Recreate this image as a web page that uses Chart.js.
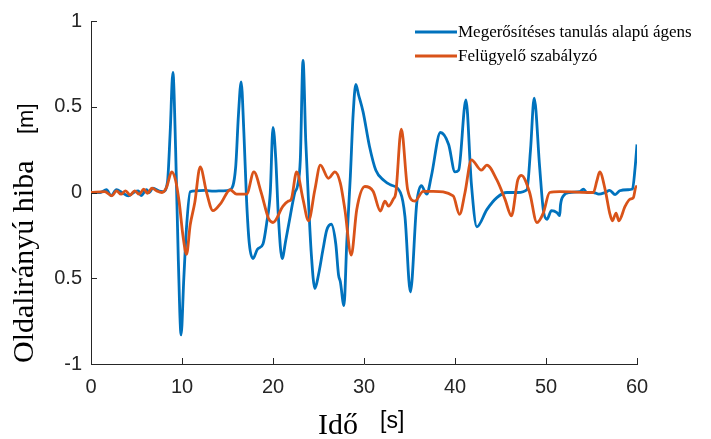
<!DOCTYPE html>
<html>
<head>
<meta charset="utf-8">
<script src="https://cdn.jsdelivr.net/npm/chart.js@4/dist/chart.umd.min.js"></script>
<style>
  html, body { margin: 0; padding: 0; background: #ffffff; }
  #wrap { width: 711px; height: 439px; position: relative; }
</style>
</head>
<body>
<div id="wrap"><canvas id="c" width="711" height="439"></canvas></div>
<script>
// ---- Data ----
const seriesNames = ["Megerősítéses tanulás alapú ágens", "Felügyelő szabályzó"];

const tAgent = [0, 1.0, 1.7, 2.2, 2.8, 3.4, 4.1, 4.7, 5.2, 5.5, 6.1, 6.4, 6.8, 7.5, 7.9, 8.4, 8.7, 9.0, 9.3, 9.6, 9.9, 10.2, 10.5, 10.9, 11.5, 12.5, 13.5, 14.5, 15.3, 15.9, 16.2, 16.5, 16.8, 17.1, 17.4, 17.8, 18.3, 18.9, 19.3, 19.7, 20.0, 20.3, 20.6, 21.0, 21.4, 21.9, 22.4, 22.7, 23.0, 23.3, 23.6, 23.9, 24.2, 24.6, 25.0, 25.5, 25.9, 26.4, 26.9, 27.2, 27.4, 27.8, 28.1, 28.5, 28.8, 29.1, 29.4, 29.9, 30.6, 31.3, 32.2, 32.9, 34.0, 34.5, 35.1, 35.8, 36.3, 36.9, 37.4, 38.4, 39.3, 40.0, 40.4, 41.2, 41.8, 42.4, 43.5, 44.6, 45.7, 46.9, 47.9, 48.3, 48.7, 49.3, 49.7, 50.1, 50.6, 51.2, 51.5, 51.6, 51.9, 52.6, 53.7, 54.1, 54.5, 55.2, 55.8, 56.5, 57.0, 57.6, 58.1, 59.0, 59.5, 59.8, 60.0];
const vAgent = [0, 0.0, 0.016, -0.018, 0.016, 0.0, -0.02, 0.0, 0.01, -0.018, 0.016, 0.0, 0.026, 0.008, 0.005, 0.06, 0.35, 0.70, 0.25, -0.4, -0.83, -0.5, -0.2, 0.005, 0.01, 0.012, 0.008, 0.01, 0.016, 0.15, 0.45, 0.645, 0.35, -0.05, -0.3, -0.385, -0.33, -0.3, -0.18, 0.0, 0.38, 0.2, -0.15, -0.385, -0.28, -0.135, 0.0, 0.04, 0.19, 0.77, 0.3, -0.05, -0.35, -0.56, -0.48, -0.33, -0.22, -0.185, -0.3, -0.48, -0.52, -0.66, -0.3, 0.095, 0.45, 0.63, 0.57, 0.47, 0.27, 0.13, 0.07, 0.045, 0.0, -0.14, -0.58, -0.06, 0.04, -0.01, 0.095, 0.35, 0.28, 0.12, 0.13, 0.54, 0.05, -0.2, -0.1, -0.03, 0.0, 0.0, 0.016, 0.25, 0.55, 0.15, -0.1, -0.156, -0.106, -0.117, -0.135, -0.07, -0.02, 0.0, 0.005, 0.02, 0.0, 0.0, -0.01, 0.0, 0.012, -0.012, 0.01, 0.016, 0.02, 0.15, 0.28];

const tSupervisor = [0, 1.5, 2.3, 2.8, 3.3, 3.8, 4.3, 4.8, 5.3, 5.8, 6.2, 6.7, 7.2, 7.8, 8.3, 8.87, 9.3, 9.7, 10.1, 10.5, 10.9, 11.4, 12.0, 12.7, 13.4, 14.3, 15.3, 16.0, 17.1, 17.9, 18.7, 19.5, 20.0, 21.1, 21.7, 22.0, 22.6, 23.3, 23.9, 24.6, 25.2, 26.1, 26.8, 27.4, 27.9, 28.6, 29.2, 30.1, 31.0, 31.8, 32.3, 32.7, 33.2, 33.5, 34.1, 34.8, 35.6, 36.5, 37.6, 39.8, 40.5, 41.1, 41.8, 42.9, 43.5, 44.6, 45.5, 46.2, 46.9, 47.3, 48.2, 49.0, 49.7, 50.4, 51.5, 55.2, 55.6, 55.9, 56.5, 57.0, 57.3, 57.7, 58.0, 58.7, 59.2, 59.6, 59.9, 60.0];
const vSupervisor = [0, 0.005, -0.02, 0.01, -0.01, 0.01, -0.015, 0.01, -0.01, 0.02, -0.005, 0.026, 0.01, 0.0, 0.03, 0.12, 0.07, -0.06, -0.25, -0.36, -0.19, -0.06, 0.15, 0.0, -0.106, -0.06, 0.016, -0.01, -0.01, 0.12, 0.0, -0.15, -0.175, -0.08, -0.05, -0.04, 0.12, -0.04, -0.165, 0.016, 0.16, 0.083, 0.12, 0.055, -0.1, -0.365, -0.1, 0.035, 0.007, -0.108, -0.05, -0.08, -0.04, 0.0, 0.37, 0.016, -0.05, 0.007, 0.007, -0.02, -0.127, 0.0, 0.19, 0.13, 0.16, 0.073, -0.04, -0.136, 0.073, 0.10, 0.0, -0.175, -0.12, 0.0, 0.005, 0.0, 0.07, 0.12, 0.017, -0.12, -0.165, -0.12, -0.165, -0.08, -0.04, -0.03, 0.035, 0.026];

const xTickLabels = ["0", "10", "20", "30", "40", "50", "60"];
const yTickLabels = ["-1", "0.5", "0", "0.5", "1"];
const xTitle = ["Idő", "[s]"];
const yTitle = ["Oldalirányú hiba", "[m]"];

// ---- Styles ----
const BLUE = "#0072BD";
const ORANGE = "#D95319";
const AXIS = "#262626";
const SERIF = "'Liberation Serif', 'Times New Roman', serif";
const SANS = "'Liberation Sans', Arial, sans-serif";

const toPts = (t, v) => t.map((x, i) => ({ x: x, y: v[i] }));

const decor = {
  id: "decor",
  afterDraw(chart) {
    const ctx = chart.ctx;
    const xs = chart.scales.x, ys = chart.scales.y;
    const area = chart.chartArea;
    ctx.save();
    // inward tick marks
    ctx.strokeStyle = AXIS;
    ctx.lineWidth = 1;
    ys.ticks.forEach(t => {
      const y = Math.round(ys.getPixelForValue(t.value)) + 0.5;
      ctx.beginPath(); ctx.moveTo(area.left, y); ctx.lineTo(area.left + 6, y); ctx.stroke();
    });
    xs.ticks.forEach(t => {
      const x = Math.round(xs.getPixelForValue(t.value)) + 0.5;
      ctx.beginPath(); ctx.moveTo(x, area.bottom); ctx.lineTo(x, area.bottom - 6); ctx.stroke();
    });
    // axis titles
    ctx.fillStyle = "#000000";
    ctx.textBaseline = "alphabetic";
    ctx.textAlign = "left";
    ctx.font = "30px " + SERIF;
    ctx.fillText(xTitle[0], 318, 434);
    ctx.font = "23px " + SANS;
    ctx.fillText(xTitle[1], 380, 428);

    ctx.save();
    ctx.translate(33, 363);
    ctx.rotate(-Math.PI / 2);
    ctx.font = "30px " + SERIF;
    ctx.fillText(yTitle[0], 0, 0);
    ctx.restore();
    ctx.save();
    ctx.translate(33, 134);
    ctx.rotate(-Math.PI / 2);
    ctx.font = "22px " + SANS;
    ctx.fillText(yTitle[1], 0, 0);
    ctx.restore();

    // legend
    const items = [[BLUE, 32], [ORANGE, 56]];
    ctx.font = "17px " + SERIF;
    ctx.textBaseline = "middle";
    items.forEach((it, i) => {
      ctx.strokeStyle = it[0];
      ctx.lineWidth = 2.8;
      ctx.beginPath(); ctx.moveTo(415, it[1]); ctx.lineTo(457, it[1]); ctx.stroke();
      ctx.fillStyle = "#000000";
      ctx.fillText(seriesNames[i], 458, it[1] + 1);
    });
    ctx.restore();
  }
};

new Chart(document.getElementById("c"), {
  type: "line",
  data: {
    datasets: [
      { label: seriesNames[0], data: toPts(tAgent, vAgent), borderColor: BLUE, borderWidth: 2.8,
        pointRadius: 0, cubicInterpolationMode: "monotone", fill: false, order: 2 },
      { label: seriesNames[1], data: toPts(tSupervisor, vSupervisor), borderColor: ORANGE, borderWidth: 2.8,
        pointRadius: 0, cubicInterpolationMode: "monotone", fill: false, order: 1 }
    ]
  },
  options: {
    responsive: false,
    animation: false,
    events: [],
    layout: { padding: { left: 51, top: 15, right: 74, bottom: 0 } },
    plugins: { legend: { display: false }, tooltip: { enabled: false } },
    scales: {
      x: {
        type: "linear", min: 0, max: 60,
        afterFit: s => { s.height = 75; },
        grid: { display: true, drawOnChartArea: false, drawTicks: false, tickLength: 0 },
        border: { display: true, color: AXIS, width: 1 },
        ticks: { stepSize: 10, padding: 11, color: AXIS, font: { family: SANS, size: 20 },
                 maxRotation: 0, callback: (v, i) => xTickLabels[i] }
      },
      y: {
        type: "linear", min: -1, max: 1,
        afterFit: s => { s.width = 40; },
        grid: { display: true, drawOnChartArea: false, drawTicks: false, tickLength: 0 },
        border: { display: true, color: AXIS, width: 1 },
        ticks: { stepSize: 0.5, padding: 9, color: AXIS, font: { family: SANS, size: 20 },
                 callback: (v, i) => yTickLabels[i] }
      }
    }
  },
  plugins: [decor]
});
</script>
</body>
</html>
